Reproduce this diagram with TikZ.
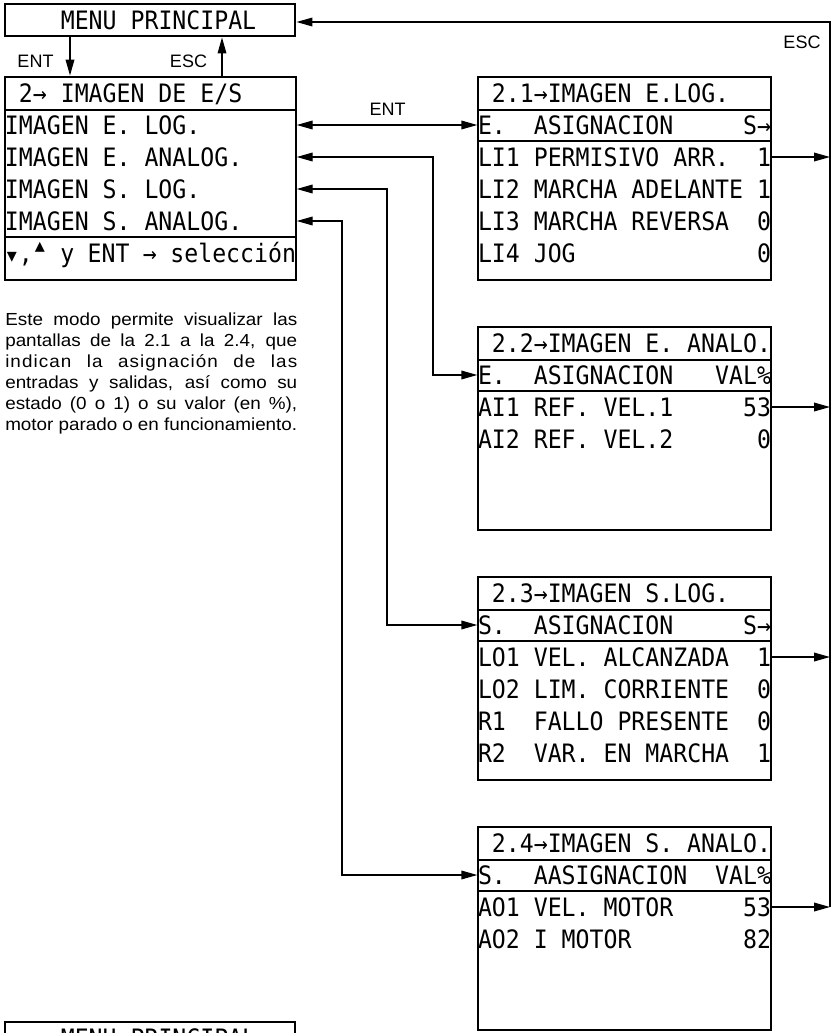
\documentclass[tikz,border=0pt]{standalone}
\usepackage{fontspec}
\setmainfont{Liberation Sans}
\newfontfamily\lcd[FakeStretch=0.915]{DejaVu Sans Mono}
\newfontfamily\symf{DejaVu Sans}
\newfontfamily\bodyf[FakeStretch=1.08]{Liberation Sans}
\usetikzlibrary{arrows.meta}
\newlength\wR \setlength\wR{219.75pt}
\newlength\wL \setlength\wL{218.25pt}
\newlength\wM \setlength\wM{217.5pt}
\newlength\cw \setlength\cw{10.47pt}
\newcommand\lcdline[3]{\makebox[#1][s]{#2\hfill#3}}
\newcommand\lcdf{\lcd\fontsize{19pt}{20pt}\selectfont\frenchspacing}
\begin{document}
\begin{tikzpicture}[x=0.75pt,y=-0.75pt,
  screen/.style={draw, line width=1pt, inner sep=0pt, minimum width=219.75pt, minimum height=152.25pt},
  titlebox/.style={draw, line width=2.2pt, inner sep=0pt, minimum height=24.75pt, font=\lcdf, text height=13.85pt, text depth=0pt},
  menubox/.style={draw, line width=2.2pt, inner sep=0pt, minimum height=24pt, font=\lcdf, text height=13.85pt, text depth=0pt},
  lcdrow/.style={inner sep=0pt, font=\lcdf, text height=13.85pt, text depth=0pt},
  sepln/.style={line width=2.2pt},
  conn/.style={line width=1pt, -{Triangle[length=12pt,width=6.5pt]}},
  conn2/.style={line width=1pt, {Triangle[length=12pt,width=6.5pt]}-{Triangle[length=12pt,width=6.5pt]}},
  lab/.style={inner sep=0pt, font=\fontsize{13.5pt}{14pt}\selectfont}]
\useasboundingbox (0,0) rectangle (834,1033);
\clip (0,0) rectangle (834,1033);
\fill[white] (0,0) rectangle (834,1033);

% main menu
\node[menubox] (menu) at (150,20) {\lcdline{\wM}{~~~~MENU PRINCIPAL}{}};

% left screen
\node[screen, minimum width=218.25pt] (lbox) at (150.5,178.5) {};
\node[titlebox] (ltitle) at (150.5,93.5) {\lcdline{\wL}{~2→ IMAGEN DE E/S}{}};
\node[lcdrow] (L1) at (150.5,125) {\lcdline{\wL}{IMAGEN E. LOG.}{}};
\node[lcdrow] (L2) at (150.5,157) {\lcdline{\wL}{IMAGEN E. ANALOG.}{}};
\node[lcdrow] (L3) at (150.5,189) {\lcdline{\wL}{IMAGEN S. LOG.}{}};
\node[lcdrow] (L4) at (150.5,221) {\lcdline{\wL}{IMAGEN S. ANALOG.}{}};
\draw[sepln] (5,237) -- (296,237);
\node[lcdrow] (L5) at (150.5,253) {\lcdline{\wL}{\makebox[\cw]{\symf\fontsize{15pt}{15pt}\selectfont ▾},\makebox[\cw]{\raisebox{7pt}{\symf\fontsize{15pt}{15pt}\selectfont ▴}} y ENT → selección}{}};

% screen 2.1
\node[screen] (s1) at (624.5,178.5) {};
\node[titlebox] (t1) at (624.5,93.5) {\lcdline{\wR}{~2.1→IMAGEN E.LOG.}{}};
\node[lcdrow] (h1) at (624.5,125) {\lcdline{\wR}{E.~~ASIGNACION}{S→}};
\draw[sepln] (478,141) -- (771,141);
\node[lcdrow] (a1) at (624.5,157) {\lcdline{\wR}{LI1 PERMISIVO ARR.}{1}};
\node[lcdrow] (b1) at (624.5,189) {\lcdline{\wR}{LI2 MARCHA ADELANTE}{1}};
\node[lcdrow] (c1) at (624.5,221) {\lcdline{\wR}{LI3 MARCHA REVERSA}{0}};
\node[lcdrow] (d1) at (624.5,253) {\lcdline{\wR}{LI4 JOG}{0}};

% screen 2.2
\node[screen] (s2) at (624.5,428.5) {};
\node[titlebox] (t2) at (624.5,343.5) {\lcdline{\wR}{~2.2→IMAGEN E. ANALO.}{}};
\node[lcdrow] (h2) at (624.5,375) {\lcdline{\wR}{E.~~ASIGNACION}{VAL\%}};
\draw[sepln] (478,391) -- (771,391);
\node[lcdrow] (a2) at (624.5,407) {\lcdline{\wR}{AI1 REF. VEL.1}{53}};
\node[lcdrow] (b2) at (624.5,439) {\lcdline{\wR}{AI2 REF. VEL.2}{0}};

% screen 2.3
\node[screen] (s3) at (624.5,678.5) {};
\node[titlebox] (t3) at (624.5,593.5) {\lcdline{\wR}{~2.3→IMAGEN S.LOG.}{}};
\node[lcdrow] (h3) at (624.5,625) {\lcdline{\wR}{S.~~ASIGNACION}{S→}};
\draw[sepln] (478,641) -- (771,641);
\node[lcdrow] (a3) at (624.5,657) {\lcdline{\wR}{LO1 VEL. ALCANZADA}{1}};
\node[lcdrow] (b3) at (624.5,689) {\lcdline{\wR}{LO2 LIM. CORRIENTE}{0}};
\node[lcdrow] (c3) at (624.5,721) {\lcdline{\wR}{R1~~FALLO PRESENTE}{0}};
\node[lcdrow] (d3) at (624.5,753) {\lcdline{\wR}{R2~~VAR. EN MARCHA}{1}};

% screen 2.4
\node[screen] (s4) at (624.5,928.5) {};
\node[titlebox] (t4) at (624.5,843.5) {\lcdline{\wR}{~2.4→IMAGEN S. ANALO.}{}};
\node[lcdrow] (h4) at (624.5,875) {\lcdline{\wR}{S.~~AASIGNACION}{VAL\%}};
\draw[sepln] (478,891) -- (771,891);
\node[lcdrow] (a4) at (624.5,907) {\lcdline{\wR}{AO1 VEL. MOTOR}{53}};
\node[lcdrow] (b4) at (624.5,939) {\lcdline{\wR}{AO2 I MOTOR}{82}};

% bottom (cut) main menu
\node[menubox] (menu2) at (150,1038) {\lcdline{\wM}{~~~~MENU PRINCIPAL}{}};

% helper coordinates
\coordinate (entx) at (70,0);
\coordinate (escx) at (222,0);
\coordinate (c2x) at (433,0);
\coordinate (c3x) at (387,0);
\coordinate (c4x) at (342,0);
\coordinate (escv) at (830,0);
\coordinate (escy) at (0,22);

% connectors
\draw[conn] (menu.south -| entx) -- (ltitle.north -| entx);
\draw[conn] (ltitle.north -| escx) -- (menu.south -| escx);
\draw[conn2] (lbox.east |- L1) -- (s1.west |- h1);
\draw[conn2] (lbox.east |- L2) -| (c2x |- h2) -- (s2.west |- h2);
\draw[conn2] (lbox.east |- L3) -| (c3x |- h3) -- (s3.west |- h3);
\draw[conn2] (lbox.east |- L4) -| (c4x |- h4) -- (s4.west |- h4);
\draw[conn] (s1.east |- a1) -- (escv |- a1);
\draw[conn] (s2.east |- a2) -- (escv |- a2);
\draw[conn] (s3.east |- a3) -- (escv |- a3);
\draw[conn] (s4.east |- a4) -- (escv |- a4);
\draw[conn] (escv |- a4) -- (escv |- escy) -- (menu.east |- escy);

% labels
\node[lab] (lent) at (35.5,61.5) {ENT};
\node[lab] (lesc) at (188.5,61.5) {ESC};
\node[lab] (ment) at (387.5,109) {ENT};
\node[lab] (resc) at (802,42) {ESC};

% description
\node[inner sep=0pt, anchor=base west] (desc) at (5,325) {\parbox[t]{219pt}{\bodyf\fontsize{13.1pt}{15.75pt}\selectfont
\makebox[\linewidth][s]{Este modo permite visualizar las}\\
\makebox[\linewidth][s]{pantallas de la 2.1 a la 2.4, que}\\
\makebox[\linewidth][s]{\addfontfeatures{LetterSpace=6}indican la asignación de las}\\
\makebox[\linewidth][s]{entradas y salidas, así como su}\\
\makebox[\linewidth][s]{estado (0 o 1) o su valor (en \%),}\\
\makebox[\linewidth][s]{\spaceskip=0.5pt plus 1fil motor parado o en funcionamiento.}}};
\end{tikzpicture}
\end{document}
